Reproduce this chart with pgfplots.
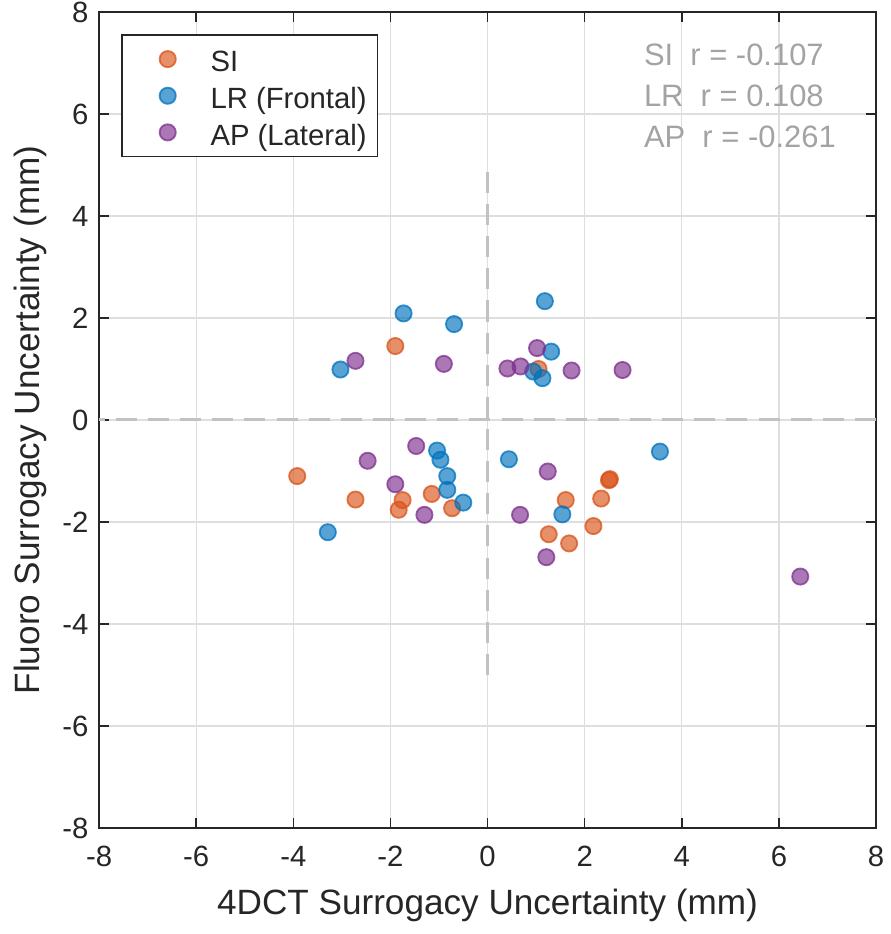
\documentclass[border=0pt]{standalone}
\usepackage{fontspec}
\setmainfont{Liberation Sans}
\usepackage{pgfplots}
\pgfplotsset{compat=1.18}
\definecolor{Csi}{rgb}{0.850,0.325,0.098}
\definecolor{Clr}{rgb}{0,0.447,0.741}
\definecolor{Cap}{rgb}{0.494,0.184,0.556}
\definecolor{Caxis}{HTML}{262626}
\definecolor{Cgrid}{HTML}{DEDEDE}
\definecolor{Cref}{HTML}{C2C2C2}
\definecolor{Cnote}{HTML}{A3A3A3}

\pgfplotsset{
  pt/.style={only marks, mark=*, mark size=2.7pt,
    mark options={fill=#1, fill opacity=0.65, draw=#1, draw opacity=0.75, line width=0.6pt}},
}

\begin{document}
\begin{tikzpicture}
\begin{axis}[
  width=258.7pt, height=271.7pt, scale only axis,
  xmin=-8, xmax=8, ymin=-8, ymax=8,
  xtick distance=2, ytick distance=2,
  grid=major,
  grid style={Cgrid, line width=0.4pt},
  axis line style={Caxis, line width=0.5pt},
  tick style={Caxis, line width=0.5pt},
  major tick length=3.3pt,
  tick label style={font=\fontsize{9.75}{11}\selectfont, text=Caxis},
  xticklabel style={yshift=-2.5pt},
  /pgf/number format/assume math mode=true,
  xlabel={4DCT Surrogacy Uncertainty (mm)},
  ylabel={Fluoro Surrogacy Uncertainty (mm)},
  label style={font=\fontsize{11.7}{13}\selectfont, text=Caxis},
  xlabel style={at={(rel axis cs:0.5,-0.0945)}, anchor=center},
  ylabel style={at={(rel axis cs:-0.089,0.5)}, anchor=center},
  legend style={at={(rel axis cs:0.0284,0.973)}, anchor=north west,
    draw=Caxis, line width=0.5pt, fill=white,
    font=\fontsize{9.75}{11}\selectfont, text=Caxis,
    inner xsep=3pt, inner ysep=2.5pt, row sep=1pt,
    nodes={inner sep=0.5pt, text height=9.35pt, text depth=0.85pt}},
  legend cell align=left,
  legend image code/.code={\path (0pt,0pt) (25.5pt,0pt);
    \draw[mark repeat=2, mark phase=2, #1] plot coordinates {(0pt,0pt)(12pt,0pt)(24pt,0pt)};},
]
\addplot[Cref, line width=1pt, dash pattern=on 7pt off 3.7pt, forget plot] coordinates {(8,0) (-8,0)};
\addplot[Cref, line width=1pt, dash pattern=on 7pt off 3.7pt, forget plot] coordinates {(0,-5) (0,5)};

% SI
\addplot[pt=Csi] coordinates {
  (-1.90,1.45) (1.05,1.00) (-3.92,-1.10) (-2.72,-1.56) (-1.75,-1.57)
  (-1.83,-1.76) (-1.15,-1.45) (-0.73,-1.73) (2.50,-1.18) (2.52,-1.16)
  (1.61,-1.57) (2.34,-1.54) (2.18,-2.08) (1.26,-2.24) (1.68,-2.42)
};
\addlegendentry{SI}
% LR (Frontal)
\addplot[pt=Clr] coordinates {
  (-1.73,2.09) (-0.69,1.88) (-3.03,0.99) (1.18,2.33) (1.31,1.34)
  (0.94,0.95) (1.13,0.82) (-1.04,-0.60) (-0.97,-0.78) (-0.83,-1.10)
  (-0.83,-1.37) (-0.50,-1.62) (-3.29,-2.20) (0.44,-0.77) (3.55,-0.62)
  (1.54,-1.85)
};
\addlegendentry{LR (Frontal)}
% AP (Lateral)
\addplot[pt=Cap] coordinates {
  (-2.72,1.16) (-0.90,1.10) (1.02,1.41) (0.41,1.01) (0.68,1.05)
  (1.73,0.97) (2.78,0.98) (-2.47,-0.80) (-1.47,-0.51) (-1.90,-1.26)
  (-1.30,-1.86) (1.24,-1.01) (0.67,-1.86) (1.21,-2.69) (6.44,-3.07)
};
\addlegendentry{AP (Lateral)}

\node[anchor=base west, inner sep=0pt, text=Cnote, font=\fontsize{10.3}{12}\selectfont] at (axis cs:3.21,6.96) {SI\ \ r = -0.107};
\node[anchor=base west, inner sep=0pt, text=Cnote, font=\fontsize{10.3}{12}\selectfont] at (axis cs:3.21,6.15) {LR\ \ r = 0.108};
\node[anchor=base west, inner sep=0pt, text=Cnote, font=\fontsize{10.3}{12}\selectfont] at (axis cs:3.21,5.34) {AP\ \ r = -0.261};

\coordinate (ll) at (rel axis cs:0,0);
\coordinate (ur) at (rel axis cs:1,1);
\end{axis}
\pgfresetboundingbox
\path (ll) ++(-33pt,-35.3pt) (ur) ++(4.7pt,4pt);
\end{tikzpicture}
\end{document}
